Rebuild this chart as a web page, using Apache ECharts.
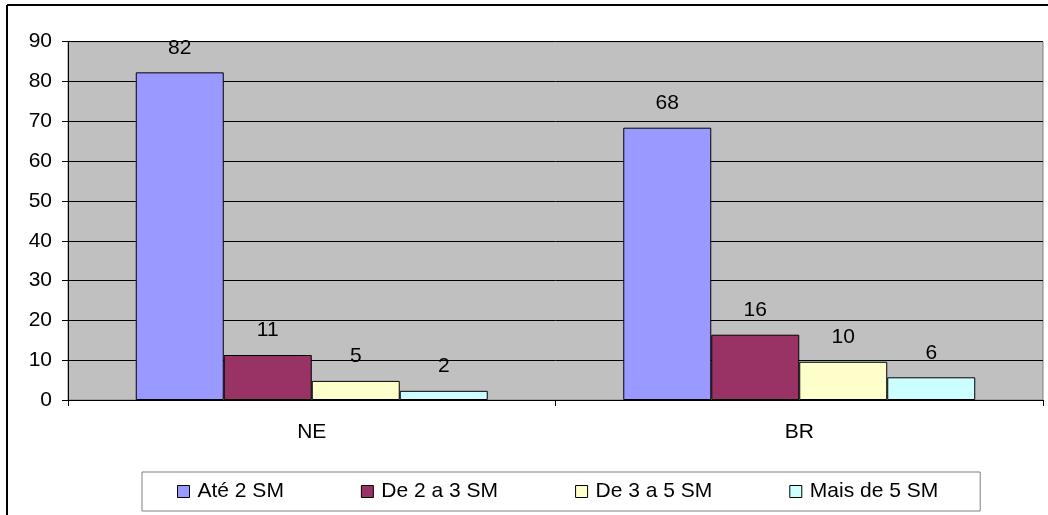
<!DOCTYPE html>
<html>
<head>
<meta charset="utf-8">
<script src="https://cdn.jsdelivr.net/npm/echarts@6/dist/echarts.min.js"></script>
<style>
html,body{margin:0;padding:0;background:#fff;}
#chart{width:1048px;height:515px;}
</style>
</head>
<body>
<div id="chart"></div>
<script>
const categories = ['NE', 'BR'];
const seriesNames = ['Até 2 SM', 'De 2 a 3 SM', 'De 3 a 5 SM', 'Mais de 5 SM'];
const ate2 = [82.3, 68.4];
const de2a3 = [11.3, 16.4];
const de3a5 = [4.8, 9.6];
const mais5 = [2.3, 5.7];
const yTicks = [0, 10, 20, 30, 40, 50, 60, 70, 80, 90];

const colors = ['#9999FF', '#993366', '#FFFFCC', '#CCFFFF'];
const FONT = '"Liberation Sans", Arial, sans-serif';
const FS = 21;

const chart = echarts.init(document.getElementById('chart'), null, {renderer: 'canvas'});
const dataSets = [ate2, de2a3, de3a5, mais5];

const series = dataSets.map((d, i) => ({
  name: seriesNames[i],
  type: 'bar',
  data: d,
  barGap: '0%',
  barCategoryGap: '27.8%',
  itemStyle: {color: colors[i], borderColor: '#000', borderWidth: 1},
  label: {
    show: true,
    position: 'top',
    distance: 14,
    color: '#000',
    fontFamily: FONT,
    fontSize: FS,
    formatter: p => String(Math.round(p.value))
  },
  emphasis: {disabled: true},
  animation: false
}));

chart.setOption({
  animation: false,
  backgroundColor: '#fff',
  textStyle: {fontFamily: FONT},
  grid: {
    left: 68, right: 5, top: 41.7, bottom: 115,
    show: true, backgroundColor: '#C0C0C0', borderColor: '#808080', borderWidth: 1,
    containLabel: false
  },
  legend: {
    show: true,
    left: 142, top: 472,
    orient: 'horizontal',
    padding: [9, 42, 9, 35],
    itemGap: 77,
    itemWidth: 12, itemHeight: 12,
    icon: 'rect',
    borderColor: '#808080', borderWidth: 1,
    backgroundColor: '#fff',
    itemStyle: {borderColor: '#000', borderWidth: 1},
    textStyle: {fontFamily: FONT, fontSize: FS, color: '#000', padding: [0, 0, 0, 3]},
    data: seriesNames
  },
  xAxis: {
    type: 'category',
    data: categories,
    boundaryGap: true,
    axisLine: {show: true, lineStyle: {color: '#000', width: 1}},
    axisTick: {show: true, length: 6, lineStyle: {color: '#000'}},
    axisLabel: {fontFamily: FONT, fontSize: FS, color: '#000', margin: 22},
    splitLine: {show: false}
  },
  yAxis: {
    type: 'value',
    min: yTicks[0], max: yTicks[yTicks.length - 1], interval: 10,
    axisLine: {show: true, lineStyle: {color: '#000', width: 1}},
    axisTick: {show: true, length: 6, lineStyle: {color: '#000'}},
    axisLabel: {fontFamily: FONT, fontSize: FS, color: '#000', margin: 16},
    splitLine: {show: true, lineStyle: {color: '#000', width: 1}}
  },
  graphic: [
    {type: 'line', shape: {x1: 7, y1: 5, x2: 1048, y2: 5}, style: {stroke: '#000', lineWidth: 2}, silent: true},
    {type: 'line', shape: {x1: 7, y1: 5, x2: 7, y2: 515}, style: {stroke: '#000', lineWidth: 2}, silent: true}
  ],
  series: series
});
</script>
</body>
</html>
